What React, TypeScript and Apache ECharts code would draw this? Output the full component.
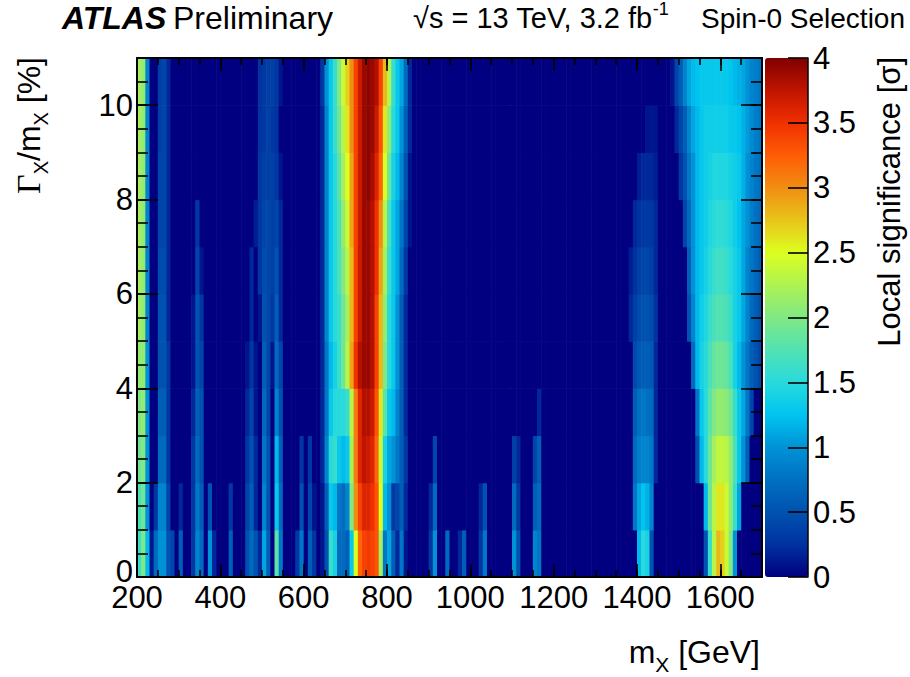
import { useEffect, useRef } from "react";
import * as echarts from "echarts";

// ---- binning ----
const MASS_START = 200; // GeV, lower edge of first mass bin
const MASS_END = 1700;
const MASS_BIN_WIDTH = 10; // GeV
const WIDTH_BIN_LOW = [0, 1, 2, 3, 4, 5, 6, 7, 8, 9, 10]; // Γ/m [%] lower edges
const WIDTH_BIN_SIZE = 1;

// ---- local significance per Γ/m row, one value per 10 GeV mass bin (200 ... 1690) ----
const ROW_0 = [
  1.6, 2.0, 1.2, 0.1, 0.7, 1.0, 1.0, 0.5, 0.4, 0,
  0.6, 0, 0, 0.3, 0.9, 0.7, 0, 1.0, 0.2, 0,
  0, 0, 0.6, 0, 0, 0, 0.5, 0.7, 0.5, 0.2,
  1.1, 0.6, 0, 1.8, 0.8, 0, 0, 0, 0.3, 0.8,
  0, 0.6, 0.3, 0, 0.1, 0.5, 1.6, 1.4, 0.7, 0.7,
  0.6, 1.3, 2.5, 3.2, 3.4, 3.45, 3.4, 3.3, 2.2, 0.8,
  1.1, 0.6, 0.2, 0.8, 0.1, 0, 0, 0, 0, 0,
  0.3, 1.0, 0, 0, 0.7, 0, 0, 0.2, 0.6, 0,
  0, 0, 0.3, 0.8, 0, 0, 0, 0, 0, 0,
  1.0, 0.5, 0, 0, 0, 0.9, 0.8, 0, 0, 0,
  0, 0, 0, 0, 0, 0, 0, 0, 0, 0,
  0, 0, 0, 0, 0, 0, 0, 0, 0, 0,
  1.2, 1.5, 1.4, 0.5, 0, 0, 0, 0, 0, 0,
  0, 0, 0, 0, 0, 0, 0.5, 1.6, 2.3, 2.8,
  2.7, 2.4, 2.0, 1.0, 0, 0, 0, 0, 0, 0,
];
const ROW_1 = [
  1.7, 1.9, 1.0, 0, 0.3, 0.9, 0.9, 0.4, 0, 0,
  0.2, 0, 0, 0.3, 0.8, 0.6, 0, 0.5, 0, 0,
  0, 0, 0.3, 0, 0, 0, 0.4, 0.6, 0.2, 0,
  0.9, 0.5, 0, 1.3, 0.7, 0, 0, 0, 0, 0.5,
  0, 0.4, 0.1, 0, 0.1, 0.6, 1.3, 1.2, 0.8, 0.7,
  0.9, 2.0, 3.0, 3.4, 3.6, 3.6, 3.5, 3.3, 2.5, 1.2,
  1.0, 0.3, 0.4, 0.6, 0.2, 0, 0, 0, 0, 0,
  0.2, 0.7, 0, 0, 0, 0, 0, 0, 0, 0,
  0, 0, 0.2, 0.5, 0, 0, 0, 0, 0, 0,
  0.7, 0.3, 0, 0, 0, 0.6, 0.7, 0, 0, 0,
  0, 0, 0, 0, 0, 0, 0, 0, 0, 0,
  0, 0, 0, 0, 0, 0, 0, 0, 0, 0.8,
  1.1, 1.25, 1.15, 0.9, 0, 0, 0, 0, 0, 0,
  0, 0, 0, 0, 0, 0, 1.2, 1.9, 2.3, 2.6,
  2.6, 2.4, 2.1, 1.6, 1.1, 0, 0, 0, 0, 0,
];
const ROW_2 = [
  1.9, 2.0, 1.0, 0, 0, 0.7, 0.7, 0.3, 0, 0,
  0, 0, 0, 0.3, 0.7, 0.5, 0, 0, 0, 0,
  0, 0, 0, 0, 0, 0, 0.3, 0.5, 0.2, 0,
  0.8, 0.5, 0, 1.2, 0.6, 0, 0, 0, 0, 0.3,
  0, 0.3, 0, 0, 0.2, 0.9, 1.5, 1.6, 1.3, 1.2,
  1.3, 2.2, 3.1, 3.6, 3.75, 3.7, 3.6, 3.2, 2.4, 1.4,
  1.1, 1.0, 0.8, 0.6, 0.3, 0, 0, 0, 0, 0,
  0, 0.4, 0, 0, 0, 0, 0, 0, 0, 0,
  0, 0, 0, 0, 0, 0, 0, 0, 0, 0,
  0.35, 0.2, 0, 0, 0, 0.4, 0.6, 0, 0, 0,
  0, 0, 0, 0, 0, 0, 0, 0, 0, 0,
  0, 0, 0, 0, 0, 0, 0, 0, 0, 0.7,
  0.85, 0.9, 0.9, 0.8, 0.2, 0, 0, 0, 0, 0,
  0, 0, 0, 0, 0.5, 1.2, 1.5, 1.9, 2.2, 2.35,
  2.35, 2.3, 2.1, 1.7, 1.3, 1.0, 0.6, 0, 0, 0,
];
const ROW_3 = [
  2.0, 2.1, 1.0, 0, 0, 0.6, 0.6, 0.3, 0, 0,
  0, 0, 0, 0.2, 0.6, 0.5, 0, 0, 0, 0,
  0, 0, 0, 0, 0, 0, 0.2, 0.4, 0.1, 0,
  0.7, 0.4, 0, 0.9, 0.5, 0, 0, 0, 0, 0,
  0, 0, 0, 0, 0.2, 0.8, 1.3, 1.5, 1.5, 1.5,
  1.6, 2.3, 3.1, 3.6, 3.8, 3.8, 3.7, 3.3, 2.6, 1.8,
  1.3, 1.2, 0.9, 0.6, 0.2, 0, 0, 0, 0, 0,
  0, 0, 0, 0, 0, 0, 0, 0, 0, 0,
  0, 0, 0, 0, 0, 0, 0, 0, 0, 0,
  0, 0, 0, 0, 0, 0, 0.2, 0, 0, 0,
  0, 0, 0, 0, 0, 0, 0, 0, 0, 0,
  0, 0, 0, 0, 0, 0, 0, 0, 0, 0.6,
  0.75, 0.8, 0.75, 0.7, 0.2, 0, 0, 0, 0, 0,
  0, 0, 0, 0, 0.8, 1.3, 1.5, 1.8, 2.0, 2.1,
  2.1, 2.05, 1.9, 1.6, 1.3, 1.1, 0.8, 0.4, 0, 0,
];
const ROW_4 = [
  2.1, 2.1, 1.0, 0, 0, 0.5, 0.5, 0.3, 0, 0,
  0, 0, 0, 0.1, 0.5, 0.4, 0, 0, 0, 0,
  0, 0, 0, 0, 0, 0, 0.1, 0.3, 0.1, 0,
  0.6, 0.4, 0.1, 0.7, 0.4, 0, 0, 0, 0, 0,
  0, 0, 0, 0, 0.2, 0.8, 1.2, 1.4, 1.6, 1.9,
  2.3, 2.9, 3.5, 3.8, 3.9, 3.9, 3.8, 3.4, 2.8, 2.0,
  1.5, 1.3, 1.0, 0.6, 0.2, 0, 0, 0, 0, 0,
  0, 0, 0, 0, 0, 0, 0, 0, 0, 0,
  0, 0, 0, 0, 0, 0, 0, 0, 0, 0,
  0, 0, 0, 0, 0, 0, 0, 0, 0, 0,
  0, 0, 0, 0, 0, 0, 0, 0, 0, 0,
  0, 0, 0, 0, 0, 0, 0, 0, 0, 0.45,
  0.55, 0.6, 0.6, 0.55, 0.2, 0, 0, 0, 0, 0,
  0, 0, 0, 0.7, 1.2, 1.4, 1.5, 1.7, 1.85, 1.9,
  1.9, 1.85, 1.7, 1.4, 1.2, 1.0, 0.8, 0.6, 0.5, 0.4,
];
const ROW_5 = [
  2.2, 2.1, 0.9, 0, 0, 0.5, 0.5, 0.2, 0, 0,
  0, 0, 0, 0.1, 0.5, 0.3, 0, 0, 0, 0,
  0, 0, 0, 0, 0, 0, 0, 0.2, 0, 0.1,
  0.5, 0.4, 0.3, 0.6, 0.2, 0, 0, 0, 0, 0,
  0, 0, 0, 0, 0.2, 0.9, 1.3, 1.5, 1.6, 1.9,
  2.2, 2.8, 3.4, 3.7, 3.9, 3.9, 3.8, 3.4, 2.8, 2.1,
  1.5, 1.3, 1.0, 0.6, 0.2, 0, 0, 0, 0, 0,
  0, 0, 0, 0, 0, 0, 0, 0, 0, 0,
  0, 0, 0, 0, 0, 0, 0, 0, 0, 0,
  0, 0, 0, 0, 0, 0, 0, 0, 0, 0,
  0, 0, 0, 0, 0, 0, 0, 0, 0, 0,
  0, 0, 0, 0, 0, 0, 0, 0, 0.2, 0.35,
  0.45, 0.5, 0.5, 0.45, 0.25, 0, 0, 0, 0, 0,
  0, 0, 0.5, 0.9, 1.2, 1.35, 1.45, 1.6, 1.7, 1.75,
  1.75, 1.7, 1.6, 1.4, 1.3, 1.1, 0.9, 0.7, 0.6, 0.5,
];
const ROW_6 = [
  2.2, 2.1, 0.9, 0, 0, 0.45, 0.45, 0.2, 0, 0,
  0, 0, 0, 0, 0.4, 0.1, 0, 0, 0, 0,
  0, 0, 0, 0, 0, 0, 0, 0.2, 0, 0.3,
  0.45, 0.4, 0.35, 0.5, 0.2, 0, 0, 0, 0, 0,
  0, 0, 0, 0, 0.2, 0.9, 1.3, 1.5, 1.7, 2.0,
  2.3, 2.8, 3.4, 3.7, 3.9, 3.9, 3.8, 3.5, 2.9, 2.2,
  1.6, 1.3, 1.1, 0.7, 0.3, 0, 0, 0, 0, 0,
  0, 0, 0, 0, 0, 0, 0, 0, 0, 0,
  0, 0, 0, 0, 0, 0, 0, 0, 0, 0,
  0, 0, 0, 0, 0, 0, 0, 0, 0, 0,
  0, 0, 0, 0, 0, 0, 0, 0, 0, 0,
  0, 0, 0, 0, 0, 0, 0, 0, 0.15, 0.25,
  0.35, 0.4, 0.4, 0.35, 0.2, 0, 0, 0, 0, 0,
  0, 0, 0.6, 1.0, 1.2, 1.3, 1.4, 1.5, 1.6, 1.65,
  1.65, 1.6, 1.5, 1.4, 1.3, 1.1, 0.9, 0.8, 0.7, 0.6,
];
const ROW_7 = [
  2.2, 2.1, 0.9, 0, 0, 0.4, 0.4, 0.2, 0, 0,
  0, 0, 0, 0, 0.3, 0, 0, 0, 0, 0,
  0, 0, 0, 0, 0, 0, 0, 0, 0.15, 0.3,
  0.4, 0.4, 0.35, 0.4, 0.2, 0, 0, 0, 0, 0,
  0, 0, 0, 0, 0.2, 0.9, 1.3, 1.5, 1.7, 2.1,
  2.4, 2.9, 3.4, 3.7, 3.9, 3.9, 3.8, 3.5, 3.0, 2.3,
  1.7, 1.3, 1.1, 0.8, 0.4, 0.1, 0, 0, 0, 0,
  0, 0, 0, 0, 0, 0, 0, 0, 0, 0,
  0, 0, 0, 0, 0, 0, 0, 0, 0, 0,
  0, 0, 0, 0, 0, 0, 0, 0, 0, 0,
  0, 0, 0, 0, 0, 0, 0, 0, 0, 0,
  0, 0, 0, 0, 0, 0, 0, 0, 0, 0.2,
  0.25, 0.3, 0.3, 0.3, 0.2, 0, 0, 0, 0, 0,
  0, 0.4, 0.7, 1.0, 1.2, 1.3, 1.35, 1.45, 1.5, 1.55,
  1.55, 1.5, 1.45, 1.35, 1.25, 1.1, 1.0, 0.85, 0.75, 0.7,
];
const ROW_8 = [
  2.2, 2.1, 0.9, 0, 0, 0.4, 0.4, 0.2, 0, 0,
  0, 0, 0, 0, 0, 0, 0, 0, 0, 0,
  0, 0, 0, 0, 0, 0, 0, 0, 0, 0.3,
  0.35, 0.35, 0.35, 0.3, 0.1, 0, 0, 0, 0, 0,
  0, 0, 0, 0, 0.2, 0.9, 1.3, 1.5, 1.8, 2.2,
  2.5, 2.9, 3.4, 3.7, 3.9, 3.95, 3.85, 3.6, 3.2, 2.5,
  1.9, 1.4, 1.2, 0.9, 0.5, 0.1, 0, 0, 0, 0,
  0, 0, 0, 0, 0, 0, 0, 0, 0, 0,
  0, 0, 0, 0, 0, 0, 0, 0, 0, 0,
  0, 0, 0, 0, 0, 0, 0, 0, 0, 0,
  0, 0, 0, 0, 0, 0, 0, 0, 0, 0,
  0, 0, 0, 0, 0, 0, 0, 0, 0, 0,
  0.15, 0.2, 0.2, 0.2, 0.15, 0, 0, 0, 0, 0,
  0.3, 0.5, 0.8, 1.0, 1.2, 1.3, 1.35, 1.4, 1.45, 1.45,
  1.45, 1.45, 1.4, 1.35, 1.3, 1.15, 1.0, 0.9, 0.8, 0.75,
];
const ROW_9 = [
  2.2, 2.1, 0.9, 0, 0, 0.35, 0.4, 0.2, 0, 0,
  0, 0, 0, 0, 0, 0, 0, 0, 0, 0,
  0, 0, 0, 0, 0, 0, 0, 0, 0, 0.25,
  0.3, 0.35, 0.3, 0.25, 0, 0, 0, 0, 0, 0,
  0, 0, 0, 0, 0.2, 0.9, 1.3, 1.6, 1.9, 2.3,
  2.6, 3.0, 3.4, 3.7, 3.9, 3.95, 3.9, 3.7, 3.3, 2.6,
  2.1, 1.5, 1.3, 1.0, 0.6, 0.2, 0, 0, 0, 0,
  0, 0, 0, 0, 0, 0, 0, 0, 0, 0,
  0, 0, 0, 0, 0, 0, 0, 0, 0, 0,
  0, 0, 0, 0, 0, 0, 0, 0, 0, 0,
  0, 0, 0, 0, 0, 0, 0, 0, 0, 0,
  0, 0, 0, 0, 0, 0, 0, 0, 0, 0,
  0, 0, 0.1, 0.12, 0.1, 0, 0, 0, 0, 0.2,
  0.4, 0.6, 0.9, 1.1, 1.2, 1.3, 1.35, 1.35, 1.35, 1.35,
  1.35, 1.35, 1.3, 1.3, 1.25, 1.15, 1.05, 0.95, 0.85, 0.8,
];
const ROW_10 = [
  2.2, 2.1, 0.9, 0, 0, 0.35, 0.4, 0.2, 0, 0,
  0, 0, 0, 0, 0, 0, 0, 0, 0, 0,
  0, 0, 0, 0, 0, 0, 0, 0, 0, 0.25,
  0.3, 0.35, 0.35, 0.3, 0.1, 0, 0, 0, 0, 0,
  0, 0, 0, 0, 0.3, 1.0, 1.3, 1.6, 2.0, 2.4,
  2.7, 3.0, 3.4, 3.7, 3.9, 3.95, 3.9, 3.8, 3.4, 2.8,
  2.3, 1.6, 1.3, 1.1, 0.7, 0.2, 0, 0, 0, 0,
  0, 0, 0, 0, 0, 0, 0, 0, 0, 0,
  0, 0, 0, 0, 0, 0, 0, 0, 0, 0,
  0, 0, 0, 0, 0, 0, 0, 0, 0, 0,
  0, 0, 0, 0, 0, 0, 0, 0, 0, 0,
  0, 0, 0, 0, 0, 0, 0, 0, 0, 0,
  0, 0, 0, 0, 0, 0, 0, 0, 0.1, 0.4,
  0.6, 0.9, 1.1, 1.2, 1.25, 1.3, 1.3, 1.3, 1.3, 1.3,
  1.3, 1.3, 1.25, 1.2, 1.15, 1.1, 1.0, 0.9, 0.85, 0.8,
];
const ROWS = [ROW_0, ROW_1, ROW_2, ROW_3, ROW_4, ROW_5, ROW_6, ROW_7, ROW_8, ROW_9, ROW_10];

// ---- colour scale ----
const SIG_MIN = 0;
const SIG_MAX = 4;
const PALETTE = [
  "#000080", "#0032a0", "#0052b0", "#0070c2",
  "#0092d6", "#00c4f0", "#28dadc", "#52e2b2",
  "#80e884", "#aef252", "#dcff20", "#e8c41a",
  "#f08e12", "#ff5c05", "#f03000", "#c01400",
  "#800000",
];

const FONT = "'Liberation Sans', Arial, Helvetica, sans-serif";
const SERIF = "'Liberation Serif', 'Times New Roman', serif";

export default function App() {
  const ref = useRef<HTMLDivElement>(null);

  useEffect(() => {
    if (!ref.current) return;
    const chart = echarts.init(ref.current, null, { renderer: "svg" });

    const cells: number[][] = [];
    ROWS.forEach((row, r) => {
      row.forEach((v, i) => {
        cells.push([MASS_START + i * MASS_BIN_WIDTH, WIDTH_BIN_LOW[r], v]);
      });
    });

    const black = "#000";
    const tick = (len: number) => ({ show: true, inside: true, length: len, lineStyle: { color: black, width: 1.6 } });
    const hidden = { show: false };
    const plain = (v: number) => String(v);
    const frameLine = { show: true, onZero: false, lineStyle: { color: black, width: 2 } };
    const noLine = { show: false, onZero: false };

    const option: any = {
      animation: false,
      backgroundColor: "#ffffff",
      grid: [
        { left: 137, top: 58, width: 625, height: 519 },
        { left: 765, top: 58, width: 43, height: 519 },
      ],
      xAxis: [
        {
          type: "value", gridIndex: 0, position: "bottom", min: MASS_START, max: MASS_END, interval: 200, z: 10,
          axisLine: frameLine, axisTick: tick(13), splitLine: hidden,
          axisLabel: { show: true, showMaxLabel: false, formatter: plain, margin: 5, color: black, fontSize: 31, fontFamily: FONT },
        },
        {
          type: "value", gridIndex: 0, position: "bottom", min: MASS_START, max: MASS_END, interval: 50, z: 10,
          axisLine: noLine, axisTick: tick(7), splitLine: hidden, axisLabel: hidden,
        },
        {
          type: "value", gridIndex: 0, position: "top", min: MASS_START, max: MASS_END, interval: 200, z: 10,
          axisLine: frameLine, axisTick: tick(13), splitLine: hidden, axisLabel: hidden,
        },
        {
          type: "value", gridIndex: 0, position: "top", min: MASS_START, max: MASS_END, interval: 50, z: 10,
          axisLine: noLine, axisTick: tick(7), splitLine: hidden, axisLabel: hidden,
        },
        { type: "value", gridIndex: 1, min: 0, max: 1, show: false },
      ],
      yAxis: [
        {
          type: "value", gridIndex: 0, position: "left", min: 0, max: 11, interval: 2, z: 10,
          axisLine: frameLine, axisTick: tick(21), splitLine: hidden,
          axisLabel: {
            show: true, showMaxLabel: false, margin: 4, color: black, fontSize: 31, fontFamily: FONT,
            formatter: (v: number) => (v === 0 ? "{z|0}" : String(v)),
            rich: { z: { fontSize: 31, fontFamily: FONT, color: black, padding: [0, 0, 12, 0] } },
          },
        },
        {
          type: "value", gridIndex: 0, position: "left", min: 0, max: 11, interval: 0.5, z: 10,
          axisLine: noLine, axisTick: tick(11), splitLine: hidden, axisLabel: hidden,
        },
        {
          type: "value", gridIndex: 0, position: "right", min: 0, max: 11, interval: 2, z: 10,
          axisLine: frameLine, axisTick: tick(21), splitLine: hidden, axisLabel: hidden,
        },
        {
          type: "value", gridIndex: 0, position: "right", min: 0, max: 11, interval: 0.5, z: 10,
          axisLine: noLine, axisTick: tick(11), splitLine: hidden, axisLabel: hidden,
        },
        {
          type: "value", gridIndex: 1, position: "right", min: SIG_MIN, max: SIG_MAX, interval: 0.5, z: 10,
          axisLine: { show: true, onZero: false, lineStyle: { color: black, width: 1.5 } },
          axisTick: tick(20), splitLine: hidden,
          axisLabel: { show: true, formatter: plain, margin: 5, color: black, fontSize: 31, fontFamily: FONT },
        },
      ],
      visualMap: {
        type: "continuous",
        min: SIG_MIN,
        max: SIG_MAX,
        dimension: 2,
        seriesIndex: 0,
        calculable: false,
        orient: "vertical",
        left: 765,
        top: 58,
        padding: 0,
        itemWidth: 43,
        itemHeight: 519,
        inRange: { color: PALETTE },
        textStyle: { color: "transparent" },
      },
      series: [
        {
          type: "custom",
          xAxisIndex: 0,
          yAxisIndex: 0,
          silent: true,
          clip: true,
          z: 2,
          dimensions: ["mass", "width", "significance"],
          encode: { x: 0, y: 1 },
          data: cells,
          renderItem: (_params: any, api: any) => {
            const m = api.value(0);
            const w = api.value(1);
            const p0 = api.coord([m, w + WIDTH_BIN_SIZE]);
            const p1 = api.coord([m + MASS_BIN_WIDTH, w]);
            return {
              type: "rect",
              shape: { x: p0[0], y: p0[1], width: p1[0] - p0[0] + 0.6, height: p1[1] - p0[1] + 0.6 },
              style: { fill: api.visual("color"), stroke: null },
            };
          },
        },
      ],
      graphic: [
        {
          type: "text", x: 62, y: 18, z: 20,
          style: { text: "ATLAS", fontFamily: FONT, fontSize: 32, fontWeight: "bold", fontStyle: "italic", fill: black, align: "left", verticalAlign: "middle" },
        },
        {
          type: "text", x: 173, y: 18, z: 20,
          style: { text: "Preliminary", fontFamily: FONT, fontSize: 32, fill: black, align: "left", verticalAlign: "middle" },
        },
        {
          type: "text", x: 413, y: 18, z: 20,
          style: {
            text: "√s = 13 TeV, 3.2 fb{sup|-1}", fontFamily: FONT, fontSize: 29, lineHeight: 36, fill: black,
            align: "left", verticalAlign: "middle",
            rich: { sup: { fontFamily: FONT, fontSize: 18, lineHeight: 18, verticalAlign: "top", fill: black } },
          },
        },
        {
          type: "text", x: 905, y: 18, z: 20,
          style: { text: "Spin-0 Selection", fontFamily: FONT, fontSize: 28, fill: black, align: "right", verticalAlign: "middle" },
        },
        {
          type: "text", x: 28.5, y: 57, rotation: Math.PI / 2, z: 20,
          style: {
            text: "{g|Γ}{s|X}/m{s|X} [%]", fontFamily: FONT, fontSize: 32, lineHeight: 45, fill: black,
            align: "right", verticalAlign: "middle",
            rich: {
              g: { fontFamily: SERIF, fontSize: 34, lineHeight: 45, fill: black },
              s: { fontFamily: FONT, fontSize: 20, lineHeight: 20, verticalAlign: "bottom", fill: black },
            },
          },
        },
        {
          type: "text", x: 760, y: 652, z: 20,
          style: {
            text: "m{s|X} [GeV]", fontFamily: FONT, fontSize: 32, lineHeight: 45, fill: black,
            align: "right", verticalAlign: "middle",
            rich: { s: { fontFamily: FONT, fontSize: 21, lineHeight: 21, verticalAlign: "bottom", fill: black } },
          },
        },
        {
          type: "text", x: 889, y: 57, rotation: Math.PI / 2, z: 20,
          style: { text: "Local significance [σ]", fontFamily: FONT, fontSize: 31, fill: black, align: "right", verticalAlign: "middle" },
        },
      ],
    };

    chart.setOption(option);
    return () => chart.dispose();
  }, []);

  return (
    <div
      ref={ref}
      style={{ position: "fixed", left: 0, top: 0, width: 910, height: 677, background: "#fff" }}
    />
  );
}
